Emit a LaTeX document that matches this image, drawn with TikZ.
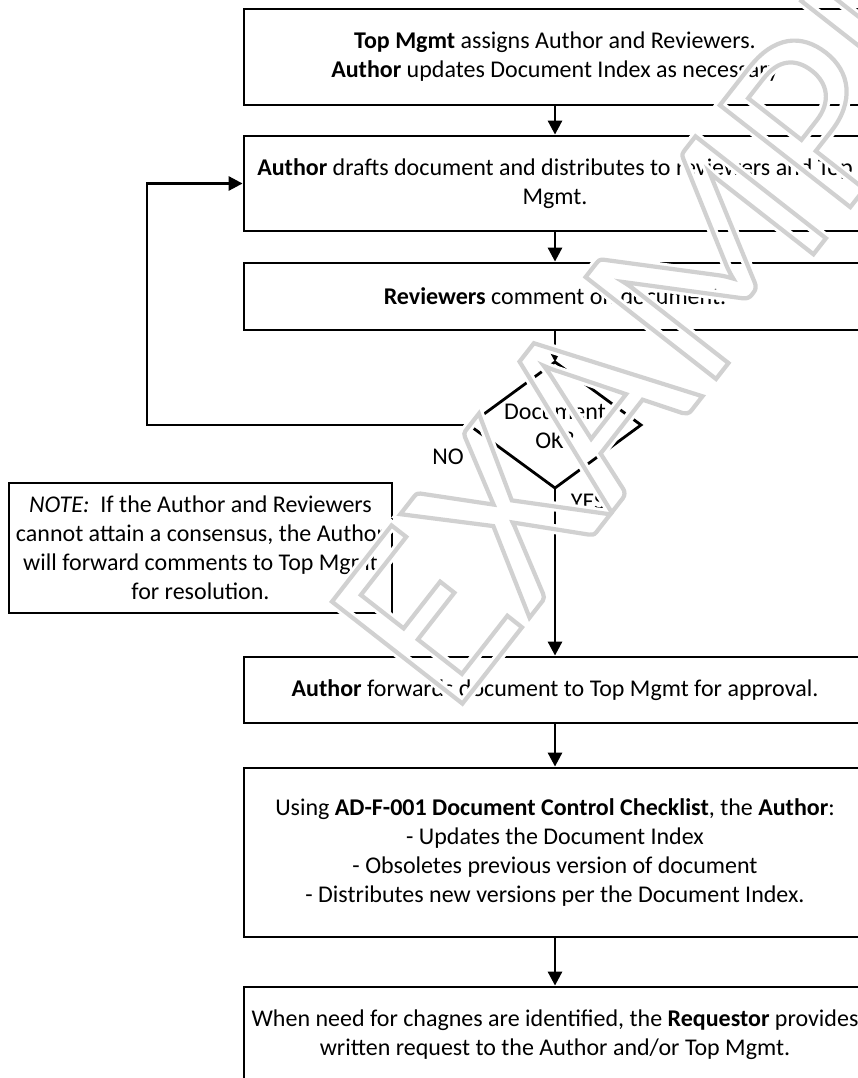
\documentclass[tikz,border=0pt]{standalone}
\usepackage{fontspec}
\setmainfont{Carlito}
\usetikzlibrary{arrows.meta,calc}
\newcommand\boxfont{\fontsize{24}{29}\selectfont}
\newcommand\wmfont{\fontsize{258}{258}\selectfont}
\begin{document}
\begin{tikzpicture}[x=1pt,y=-1pt,
  box/.style={draw, line width=2.8pt, inner sep=0pt, align=center, font=\boxfont, minimum width=622pt, fill=white},
  arr/.style={line width=2.8pt, -{Triangle[length=14pt,width=14pt]}},
  lnk/.style={line width=2.8pt},
  lbl/.style={font=\boxfont, inner sep=0pt},
  wm/.style={rotate=52, font=\wmfont, inner sep=0pt, anchor=center}]
\useasboundingbox (0,0) rectangle (858,1078);
\clip (0,0) rectangle (858,1078);
\fill[white] (0,0) rectangle (858,1078);

% process boxes
\node[box, minimum height=96pt] (A) at (555,57) {\textbf{Top Mgmt} assigns Author and Reviewers.\\\textbf{Author} updates Document Index as necessary};
\node[box, minimum height=95pt] (B) at (555,183.5) {\textbf{Author} drafts document and distributes to reviewers and Top\\Mgmt.};
\node[box, minimum height=67pt] (C) at (555,296.5) {\textbf{Reviewers} comment on document.};

% decision diamond
\coordinate (dtop) at (555,362);
\coordinate (dright) at (641,425);
\coordinate (dbot) at (555,488);
\coordinate (dleft) at (469,425);
\draw[lnk, line join=miter] (dtop) -- (dright) -- (dbot) -- (dleft) -- cycle;
\node[lbl, align=center] (dq) at (555,426) {Document\\OK?};

\node[box, minimum height=66pt] (D) at (555,690) {\textbf{Author} forwards document to Top Mgmt for approval.};
\node[box, minimum height=169pt] (E) at (555,852.5) {Using \textbf{AD-F-001 Document Control Checklist}, the \textbf{Author}:\\- Updates the Document Index\\- Obsoletes previous version of document\\- Distributes new versions per the Document Index.};
\node[box, minimum height=96pt] (F) at (555,1035) {When need for chagnes are identified, the \textbf{Requestor} provides\\written request to the Author and/or Top Mgmt.};

\node[box, minimum width=383pt, minimum height=130pt] (note) at (200.5,548) {\textit{NOTE:}\ \ If the Author and Reviewers\\cannot attain a consensus, the Author\\will forward comments to Top Mgmt\\for resolution.};

% connectors
\coordinate (loopb) at (147,425);
\draw[arr] (A.south) -- (B.north);
\draw[arr] (B.south) -- (C.north);
\draw[arr] (C.south) -- (dtop);
\draw[arr] (dleft) -- (loopb) |- (B.west);
\draw[arr] (dbot) -- (D.north);
\draw[arr] (D.south) -- (E.north);
\draw[arr] (E.south) -- (F.north);

\node[lbl] (no) at (448,457) {NO};
\node[lbl] (yes) at (588,502) {YES};

% watermark
\node[wm] (wmhalo) at (693,274) {\special{pdf:literal direct 1 Tr 10 w 1 1 1 RG 0 j}EXAMPLE\special{pdf:literal direct 0 Tr}};
\node[wm] (wmline) at (693,274) {\special{pdf:literal direct 1 Tr 4.2 w 0.82 0.82 0.82 RG 0 j}EXAMPLE\special{pdf:literal direct 0 Tr}};
\end{tikzpicture}
\end{document}
